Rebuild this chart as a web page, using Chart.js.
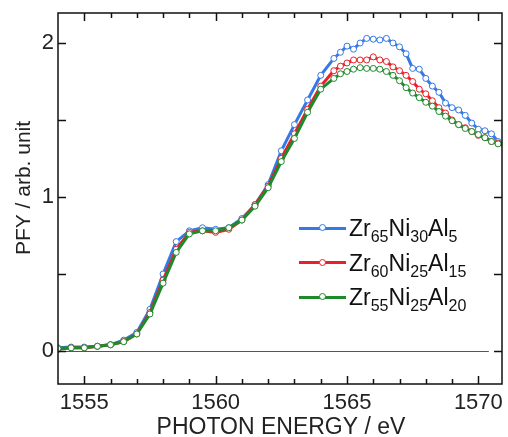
<!DOCTYPE html>
<html>
<head>
<meta charset="utf-8">
<script src="https://cdn.jsdelivr.net/npm/chart.js@4"></script>
<style>
  html, body { margin: 0; padding: 0; background: #fff; }
  #wrap { position: relative; width: 508px; height: 437px; font-family: "Liberation Sans", Arial, sans-serif; }
  #c { position: absolute; left: 0; top: 0; }
  .row { position: absolute; left: 0; top: 0; }
  .sw { position: absolute; width: 47px; height: 3px; left: 299px; }
  .mk { position: absolute; width: 5px; height: 5px; left: 319px; border-radius: 50%; background: #fff; border: 1.2px solid; }
  .lb { position: absolute; left: 349px; font-size: 23px; line-height: 23px; color: #111; white-space: nowrap; }
  .lb sub { font-size: 16px; line-height: 0; vertical-align: -6px; }
</style>
</head>
<body>
<div id="wrap">
  <canvas id="c" width="508" height="437"></canvas>
</div>
<script>
// photon energy (eV)
const energy = [1554, 1554.5, 1555, 1555.5, 1556, 1556.5, 1557, 1557.5, 1558, 1558.5, 1559, 1559.5,
  1560, 1560.5, 1561, 1561.5, 1562, 1562.5, 1563, 1563.5, 1564, 1564.5,
  1564.75, 1565, 1565.25, 1565.5, 1565.75, 1566, 1566.25, 1566.5, 1566.75, 1567, 1567.25, 1567.5,
  1567.75, 1568, 1568.25, 1568.5, 1568.75, 1569, 1569.25, 1569.5, 1569.75, 1570, 1570.25, 1570.5,
  1570.75, 1571]

const zr65 = [0.02, 0.025, 0.025, 0.03, 0.04, 0.07, 0.12, 0.27, 0.50, 0.71, 0.78, 0.80,
  0.79, 0.80, 0.86, 0.95, 1.08, 1.30, 1.47, 1.63, 1.79, 1.90,
  1.94, 1.98, 1.96, 2.00, 2.03, 2.025, 2.02, 2.03, 2.00, 1.975, 1.93, 1.835,
  1.83, 1.77, 1.72, 1.68, 1.61, 1.58, 1.565, 1.53, 1.48, 1.44, 1.43, 1.41,
  1.36, 1.345]

const zr60 = [0.01, 0.02, 0.02, 0.03, 0.04, 0.06, 0.11, 0.25, 0.46, 0.66, 0.77, 0.78,
  0.77, 0.79, 0.85, 0.95, 1.07, 1.25, 1.41, 1.57, 1.72, 1.82,
  1.85, 1.87, 1.89, 1.89, 1.89, 1.91, 1.89, 1.88, 1.845, 1.82, 1.79, 1.75,
  1.70, 1.67, 1.625, 1.58, 1.545, 1.50, 1.47, 1.45, 1.425, 1.40, 1.385, 1.36,
  1.35, 1.34]

const zr55 = [0.015, 0.02, 0.02, 0.03, 0.04, 0.06, 0.11, 0.24, 0.44, 0.64, 0.76, 0.78,
  0.78, 0.80, 0.85, 0.94, 1.06, 1.23, 1.38, 1.55, 1.70, 1.77,
  1.80, 1.815, 1.83, 1.84, 1.835, 1.835, 1.83, 1.815, 1.79, 1.755, 1.71, 1.675,
  1.645, 1.615, 1.59, 1.555, 1.525, 1.495, 1.47, 1.445, 1.425, 1.405, 1.385, 1.36,
  1.345, 1.335]

const xTicks = [1555, 1560, 1565, 1570]
const yTicks = [0, 1, 2]
const names = [
  ['Zr', '65', 'Ni', '30', 'Al', '5'],
  ['Zr', '60', 'Ni', '25', 'Al', '15'],
  ['Zr', '55', 'Ni', '25', 'Al', '20'],
]
const COLS = ['#3479e4', '#e8202a', '#1e8a2c']
const FAM = '"Liberation Sans", Arial, sans-serif'

const pts = ys => energy.map((x, i) => ({ x, y: ys[i] }))
const ds = (ys, c, order) => ({
  data: pts(ys), borderColor: c, borderWidth: 3, pointRadius: 3, pointBorderWidth: 1,
  pointBackgroundColor: '#fff', pointBorderColor: c, tension: 0, order,
})

// frame, inward ticks, zero line, axis titles
const frame = {
  id: 'frame',
  beforeDatasetsDraw(chart) {
    const { ctx, chartArea: a, scales: { x, y } } = chart
    ctx.save()
    ctx.strokeStyle = '#555'; ctx.lineWidth = 1
    const y0 = Math.round(y.getPixelForValue(0)) + 0.5
    ctx.beginPath(); ctx.moveTo(a.left, y0); ctx.lineTo(x.getPixelForValue(1570.4), y0); ctx.stroke()
    ctx.restore()
  },
  afterDraw(chart) {
    const { ctx, chartArea: a, scales: { x, y } } = chart
    ctx.save()
    ctx.strokeStyle = '#111'; ctx.lineWidth = 1.5
    ctx.strokeRect(a.left, a.top, a.right - a.left, a.bottom - a.top)
    ctx.beginPath()
    for (let v = 1555; v <= 1570; v++) {
      const px = Math.round(x.getPixelForValue(v)) + 0.5
      const len = v % 5 === 0 ? 8 : 5
      ctx.moveTo(px, a.bottom); ctx.lineTo(px, a.bottom - len)
      ctx.moveTo(px, a.top); ctx.lineTo(px, a.top + len)
    }
    for (let v = 0; v <= 2; v += 0.5) {
      const py = Math.round(y.getPixelForValue(v)) + 0.5
      ctx.moveTo(a.left, py); ctx.lineTo(a.left + 8, py)
      ctx.moveTo(a.right, py); ctx.lineTo(a.right - 8, py)
    }
    ctx.stroke()

    ctx.fillStyle = '#222'
    ctx.textAlign = 'center'; ctx.textBaseline = 'middle'
    ctx.font = `23px ${FAM}`
    ctx.fillText('PHOTON ENERGY / eV', (a.left + a.right) / 2 + 1, 428)
    ctx.translate(24, 188); ctx.rotate(-Math.PI / 2)
    ctx.font = `21px ${FAM}`
    ctx.fillText('PFY / arb. unit', 0, 0)
    ctx.restore()
  },
}

const font = { family: FAM, size: 22 }

new Chart(document.getElementById('c'), {
  type: 'line',
  data: { datasets: [ds(zr65, COLS[0], 3), ds(zr60, COLS[1], 2), ds(zr55, COLS[2], 1)] },
  options: {
    responsive: false, animation: false, devicePixelRatio: 1,
    layout: { padding: { top: 13, right: 6, left: 0, bottom: 0 } },
    plugins: { legend: { display: false }, tooltip: { enabled: false } },
    scales: {
      x: {
        type: 'linear', min: 1554, max: 1570.9,
        grid: { display: false }, border: { display: false },
        afterBuildTicks: s => { s.ticks = xTicks.map(value => ({ value })) },
        afterFit: s => { s.height = 53 },
        ticks: { color: '#222', font, padding: -2, maxRotation: 0, callback: v => String(v) },
      },
      y: {
        min: -0.215, max: 2.195,
        grid: { display: false }, border: { display: false },
        afterBuildTicks: s => { s.ticks = yTicks.map(value => ({ value })) },
        afterFit: s => { s.width = 58 },
        ticks: { color: '#222', font, padding: -4, callback: v => String(v) },
      },
    },
  },
  plugins: [frame],
})

// legend with subscripts
const wrap = document.getElementById('wrap')
names.forEach((n, i) => {
  const cy = 228 + i * 34.5
  const row = document.createElement('div')
  row.className = 'row'
  row.innerHTML =
    `<div class="sw" style="top:${cy - 1.5}px;background:${COLS[i]}"></div>` +
    `<div class="mk" style="top:${cy - 3.7}px;border-color:${COLS[i]}"></div>` +
    `<div class="lb" style="top:${cy - 11}px">${n[0]}<sub>${n[1]}</sub>${n[2]}<sub>${n[3]}</sub>${n[4]}<sub>${n[5]}</sub></div>`
  wrap.appendChild(row)
})
</script>
</body>
</html>
